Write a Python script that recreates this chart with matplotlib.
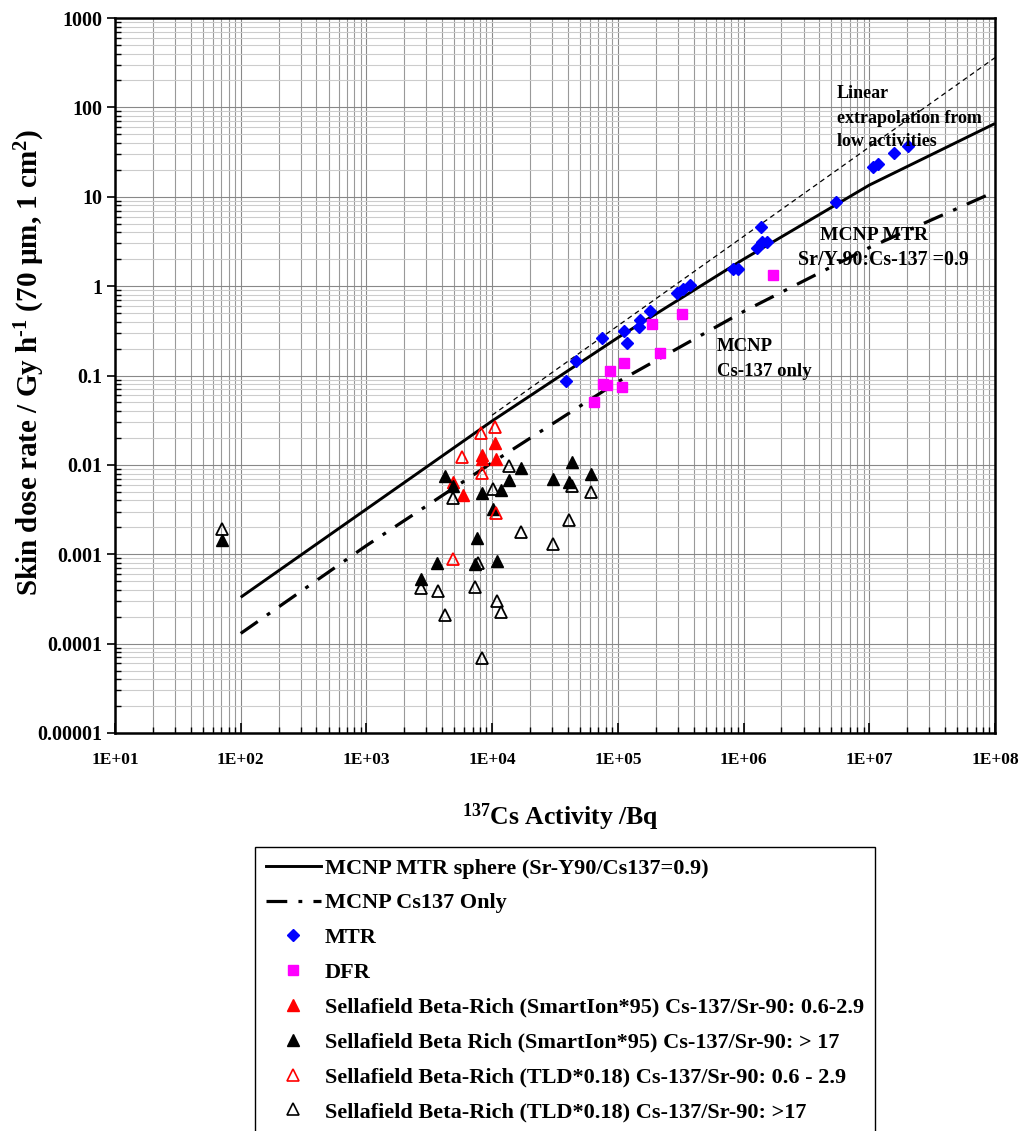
import matplotlib
matplotlib.use("Agg")
import matplotlib.pyplot as plt
from matplotlib.lines import Line2D
import matplotlib.ticker as mticker

plt.rcParams['font.family'] = ['Liberation Serif', 'DejaVu Serif']
plt.rcParams['font.weight'] = 'bold'
plt.rcParams['mathtext.fontset'] = 'custom'
plt.rcParams['mathtext.rm'] = 'Liberation Serif:bold'
plt.rcParams['mathtext.it'] = 'Liberation Serif:bold'
plt.rcParams['mathtext.bf'] = 'Liberation Serif:bold'

# ---------------- data ----------------
mcnp_x = [1e2, 1e3, 1e4, 1e5, 1e6, 1e7, 1e8]
mtr_sphere = [3.3e-4, 3.2e-3, 0.031, 0.265, 2.0, 13.5, 66]
cs137_only = [1.3e-4, 1.25e-3, 0.0106, 0.085, 0.52, 2.7, 11.4]

extrap_x = [1e4, 1e8]
extrap_y = [0.036, 360]

mtr_x = [38900, 46500, 74900, 112000, 118000, 148000, 150000, 180000, 296000,
         332000, 372000, 820000, 910000, 1.27e6, 1.40e6, 1.53e6, 1.38e6, 5.40e6,
         1.08e7, 1.18e7, 1.57e7, 2.05e7]
mtr_y = [0.0863, 0.146, 0.260, 0.315, 0.232, 0.352, 0.419, 0.521, 0.839,
         0.931, 1.03, 1.55, 1.54, 2.65, 3.12, 3.08, 4.56, 8.63,
         21.7, 23.3, 31.1, 37.0]

dfr_x = [65000, 76700, 81600, 86700, 107000, 111000, 186000, 217000, 322000, 1.70e6]
dfr_y = [0.0511, 0.0801, 0.0775, 0.112, 0.0742, 0.138, 0.375, 0.180, 0.485, 1.32]

si_rich_x = [10540, 8260, 8260, 10800, 4910, 5840]
si_rich_y = [0.01775, 0.01294, 0.01158, 0.01158, 0.0065, 0.00462]

si_poor_x = [4220, 4910, 8260, 11700, 13700, 16900, 10200, 30700, 43000, 41100,
             60800, 7620, 7310, 11000, 3660, 2700, 70.6]
si_poor_y = [0.00753, 0.00582, 0.00486, 0.00525, 0.00679, 0.00920, 0.00324,
             0.00703, 0.01089, 0.0065, 0.00793, 0.00151, 0.000775, 0.000851,
             0.000795, 0.000531, 0.00145]

tld_rich_x = [10540, 8110, 5790, 8310, 10800, 4910]
tld_rich_y = [0.0264, 0.0228, 0.01213, 0.00813, 0.00288, 0.000881]

tld_poor_x = [13700, 10200, 4910, 43000, 60800, 41100, 16900, 30700, 7680, 2700,
              3690, 7310, 4220, 11000, 11700, 8360, 70.6]
tld_poor_y = [0.00962, 0.00536, 0.0043, 0.00582, 0.00503, 0.00243, 0.00179,
              0.0013, 0.000795, 0.000418, 0.000393, 0.000425, 0.00021,
              0.000301, 0.000225, 6.98e-5, 0.00191]

x_ticks = [1e1, 1e2, 1e3, 1e4, 1e5, 1e6, 1e7, 1e8]
x_tick_labels = ['1E+01', '1E+02', '1E+03', '1E+04', '1E+05', '1E+06', '1E+07', '1E+08']
y_ticks = [1e-5, 1e-4, 1e-3, 1e-2, 1e-1, 1, 10, 100, 1000]
y_tick_labels = ['0.00001', '0.0001', '0.001', '0.01', '0.1', '1', '10', '100', '1000']

labels = ['MCNP MTR sphere (Sr-Y90/Cs137=0.9)',
          'MCNP Cs137 Only',
          'MTR',
          'DFR',
          'Sellafield Beta-Rich (SmartIon*95) Cs-137/Sr-90: 0.6-2.9',
          'Sellafield Beta Rich (SmartIon*95) Cs-137/Sr-90: > 17',
          'Sellafield Beta-Rich (TLD*0.18) Cs-137/Sr-90: 0.6 - 2.9',
          'Sellafield Beta-Rich (TLD*0.18) Cs-137/Sr-90: >17']

# ---------------- figure ----------------
W, H = 1021, 1131
fig = plt.figure(figsize=(W / 100, H / 100), dpi=100)
L, R, T, B = 115, 995, 18, 733
ax = fig.add_axes([L / W, 1 - B / H, (R - L) / W, (B - T) / H])
ax.set_xscale('log')
ax.set_yscale('log')
ax.set_xlim(1e1, 1e8)
ax.set_ylim(1e-5, 1e3)

ax.grid(which='major', axis='both', color='#888888', lw=0.8)
ax.grid(which='minor', axis='x', color='#999999', lw=0.8)
ax.grid(which='minor', axis='y', color='#cccccc', lw=0.8)
ax.set_axisbelow(True)

ax.xaxis.set_minor_locator(mticker.LogLocator(base=10, subs=range(2, 10), numticks=100))
ax.yaxis.set_minor_locator(mticker.LogLocator(base=10, subs=range(2, 10), numticks=100))
ax.set_xticks(x_ticks)
ax.set_xticklabels(x_tick_labels)
ax.set_yticks(y_ticks)
ax.set_yticklabels(y_tick_labels)
ax.xaxis.set_minor_formatter(mticker.NullFormatter())
ax.yaxis.set_minor_formatter(mticker.NullFormatter())
ax.tick_params(axis='x', which='major', direction='in', length=7, width=1.2, labelsize=12.5, pad=14)
ax.tick_params(axis='x', which='minor', direction='in', length=4, width=1)
ax.tick_params(axis='y', which='major', direction='out', length=6, width=1.2, labelsize=14.5, pad=3)
ax.tick_params(axis='y', which='minor', direction='in', length=4, width=1)
for lab in ax.get_xticklabels() + ax.get_yticklabels():
    lab.set_fontweight('bold')
for s in ax.spines.values():
    s.set_linewidth(1.8)
    s.set_color('black')

# lines
ax.plot(mcnp_x, mtr_sphere, color='black', lw=2.1, solid_capstyle='butt')
ax.plot(mcnp_x, cs137_only, color='black', lw=2.3, dashes=(6.5, 3.5, 1.2, 3.5))
ax.plot(extrap_x, extrap_y, color='black', lw=0.9, dashes=(4, 3))

# markers
ax.plot(mtr_x, mtr_y, 'D', color='#0000ff', ms=6.5, mec='#0000ff', ls='none')
ax.plot(dfr_x, dfr_y, 's', color='#ff00ff', ms=7.7, mec='#ff00ff', ls='none')
ax.plot(si_rich_x, si_rich_y, '^', color='#ff0000', ms=9, mec='#ff0000', ls='none')
ax.plot(si_poor_x, si_poor_y, '^', color='black', ms=9, mec='black', ls='none')
ax.plot(tld_rich_x, tld_rich_y, '^', mfc='none', mec='#ff0000', mew=1.3, ms=9, ls='none')
ax.plot(tld_poor_x, tld_poor_y, '^', mfc='none', mec='black', mew=1.3, ms=9, ls='none')

# annotations
tkw = dict(transform=ax.transAxes, fontweight='bold', va='center', ha='left')
ax.text(0.8205, 0.8951, 'Linear', fontsize=13, **tkw)
ax.text(0.8205, 0.8601, 'extrapolation from', fontsize=13, **tkw)
ax.text(0.8205, 0.8266, 'low activities', fontsize=13, **tkw)
ax.text(0.8011, 0.6965, 'MCNP MTR', fontsize=14, **tkw)
ax.text(0.7761, 0.6615, 'Sr/Y-90:Cs-137 =0.9', fontsize=14.3, **tkw)
ax.text(0.6841, 0.5399, 'MCNP', fontsize=13.5, **tkw)
ax.text(0.6841, 0.5049, 'Cs-137 only', fontsize=13.5, **tkw)

# axis labels
fig.text(30 / W, 1 - 362 / H, r'Skin dose rate / Gy h$^{\text{-1}}$ (70 µm, 1 cm$^{\mathrm{2}}$)',
         rotation=90, fontsize=21, fontweight='bold', ha='center', va='center')
fig.text(560 / W, 1 - 817 / H, r'$^{\mathrm{137}}$Cs Activity /Bq',
         fontsize=18.5, fontweight='bold', ha='center', va='center')

# legend
handles = [
    Line2D([], [], color='black', lw=2.1),
    Line2D([], [], color='black', lw=2.3, dashes=(6.5, 3.5, 1.2, 3.5)),
    Line2D([], [], marker='D', color='#0000ff', ms=6, ls='none'),
    Line2D([], [], marker='s', color='#ff00ff', ms=7, ls='none'),
    Line2D([], [], marker='^', color='#ff0000', ms=8, ls='none'),
    Line2D([], [], marker='^', color='black', ms=8, ls='none'),
    Line2D([], [], marker='^', mfc='none', mec='#ff0000', mew=1.2, ms=8, ls='none'),
    Line2D([], [], marker='^', mfc='none', mec='black', mew=1.2, ms=8, ls='none'),
]
leg = fig.legend(handles, labels, loc='upper left', bbox_to_anchor=(255 / W, 1 - 847 / H),
                 frameon=True, fancybox=False, framealpha=1, edgecolor='black',
                 prop={'family': 'Liberation Serif', 'weight': 'bold', 'size': 16},
                 handlelength=2.45, handletextpad=0.2, labelspacing=0.64,
                 borderpad=0.5, borderaxespad=0, numpoints=1)
leg.get_frame().set_linewidth(1.0)

fig.savefig('out.png', dpi=100)
